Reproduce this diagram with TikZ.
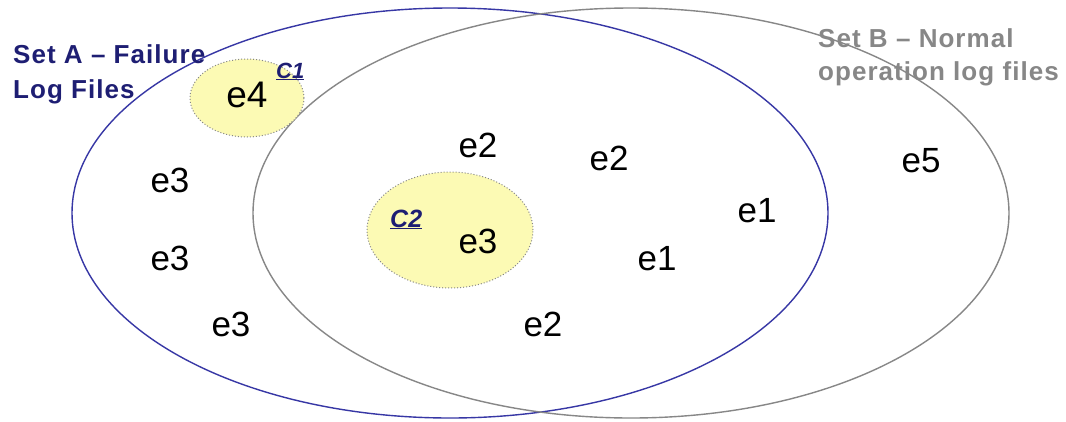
\documentclass[tikz,border=0pt]{standalone}
\usepackage{fontspec}
\setmainfont{Liberation Sans}
\newfontfamily\setfont[LetterSpace=4]{Liberation Sans}
\usetikzlibrary{shapes.geometric}
\definecolor{navy}{RGB}{30,30,115}
\definecolor{setablue}{RGB}{55,55,165}
\definecolor{setgray}{RGB}{135,135,135}
\definecolor{paleyellow}{RGB}{252,250,180}
\tikzset{
  bigset/.style={ellipse, draw, line width=1.4pt, inner sep=0pt,
    minimum width=756pt, minimum height=410pt},
  cluster/.style={ellipse, draw=setgray, dotted, line width=1pt,
    fill=paleyellow, inner sep=0pt},
  ev/.style={anchor=base, inner sep=0pt, font=\fontsize{35}{40}\selectfont},
  settitle/.style={anchor=base west, inner sep=0pt, align=left},
  clabel/.style={anchor=base west, inner sep=0pt, text=navy}
}
\begin{document}
\begin{tikzpicture}[x=1pt,y=-1pt]
\fill[white] (0,0) rectangle (1066,421);
\useasboundingbox (0,0) rectangle (1066,421);
% big sets
\node[bigset, draw=setablue] (setA) at (450,213) {};
\node[bigset, draw=setgray] (setB) at (631,213) {};
% clusters
\node[cluster, minimum width=114pt, minimum height=78pt] (c1) at (247,98) {};
\node[cluster, minimum width=166pt, minimum height=116pt] (c2) at (450,230) {};
% titles (anchor base = baseline of the last line)
\node[settitle, text=navy, font=\setfont\bfseries\fontsize{26}{35}\selectfont] (titleA) at (13,98) {Set A \textendash\ Failure\\Log Files};
\node[settitle, text=setgray, font=\setfont\bfseries\fontsize{26}{33}\selectfont] (titleB) at (818,80) {Set B \textendash\ Normal\\operation log files};
% cluster labels
\node[clabel, font=\bfseries\itshape\fontsize{22}{26}\selectfont] (c1lab) at (276,78) {\underline{C1}};
\node[clabel, font=\bfseries\itshape\fontsize{25}{28}\selectfont] (c2lab) at (390,227) {\underline{C2}};
% events
\node[ev, font=\fontsize{37}{40}\selectfont] (e4) at (247,107) {e4};
\node[ev] (e2a) at (478,157) {e2};
\node[ev] (e2b) at (609,170) {e2};
\node[ev] (e5) at (921,172) {e5};
\node[ev] (e3a) at (170,192) {e3};
\node[ev] (e1a) at (757,222) {e1};
\node[ev] (e3c) at (478,253) {e3};
\node[ev] (e3b) at (170,270) {e3};
\node[ev] (e1b) at (657,270) {e1};
\node[ev] (e3d) at (231,336) {e3};
\node[ev] (e2c) at (543,336) {e2};
\end{tikzpicture}
\end{document}
